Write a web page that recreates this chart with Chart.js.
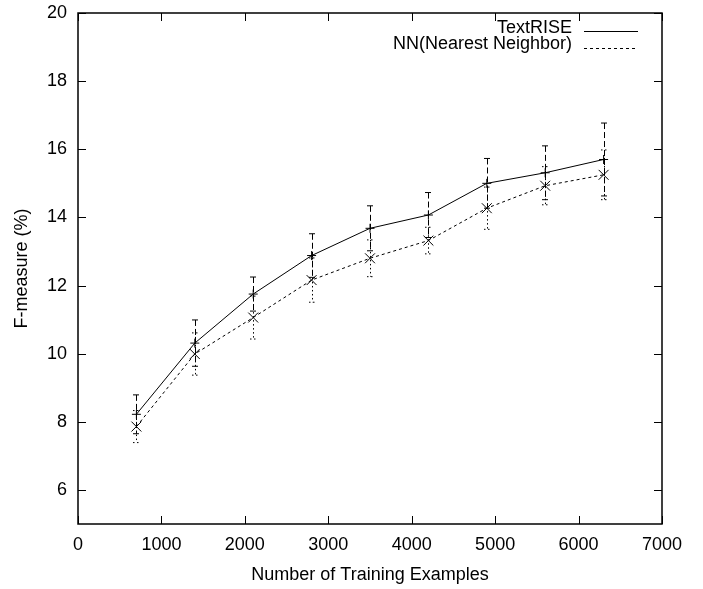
<!DOCTYPE html>
<html><head><meta charset="utf-8">
<script src="https://cdn.jsdelivr.net/npm/chart.js@4.4.1/dist/chart.umd.min.js"></script>
<style>html,body{margin:0;padding:0;background:#fff}</style>
</head><body>
<canvas id="c" width="703" height="589"></canvas>
<script>
const trainingSizes = [700, 1400, 2100, 2800, 3500, 4200, 4900, 5600, 6300];
const textriseF   = [8.22, 10.31, 11.75, 12.88, 13.68, 14.07, 15.0, 15.31, 15.7];
const textriseErr = [0.57, 0.68, 0.50, 0.64, 0.66, 0.66, 0.73, 0.79, 1.07];
const nnF   = [7.86, 9.99, 11.06, 12.16, 12.8, 13.32, 14.27, 14.93, 15.25];
const nnErr = [0.47, 0.62, 0.63, 0.65, 0.54, 0.39, 0.62, 0.56, 0.73];
const xTicks = [0, 1000, 2000, 3000, 4000, 5000, 6000, 7000];
const yTicks = [6, 8, 10, 12, 14, 16, 18, 20];
const seriesNames = ['TextRISE', 'NN(Nearest Neighbor)'];
const xTitle = 'Number of Training Examples';
const yTitle = 'F-measure (%)';

const FONT = 'Liberation Sans, Arial, Helvetica, sans-serif';

const errSpecs = [
  {vals: textriseF, errs: textriseErr, dash: [6, 3]},
  {vals: nnF, errs: nnErr, dash: [1.5, 2.5]}
];

const errorBars = {
  id: 'errorBars',
  beforeDatasetsDraw(chart) {
    const {ctx, scales: {x, y}} = chart;
    ctx.save();
    ctx.strokeStyle = '#000';
    ctx.lineWidth = 1;
    errSpecs.forEach(s => {
      ctx.setLineDash(s.dash);
      trainingSizes.forEach((t, i) => {
        const px = Math.round(x.getPixelForValue(t)) + 0.5;
        const y1 = y.getPixelForValue(s.vals[i] + s.errs[i]);
        const y2 = y.getPixelForValue(s.vals[i] - s.errs[i]);
        ctx.beginPath();
        ctx.moveTo(px, y1); ctx.lineTo(px, y2);
        ctx.moveTo(px - 3.5, y1); ctx.lineTo(px + 3.5, y1);
        ctx.moveTo(px - 3.5, y2); ctx.lineTo(px + 3.5, y2);
        ctx.stroke();
      });
    });
    ctx.restore();
  }
};

const frame = {
  id: 'frame',
  afterDraw(chart) {
    const {ctx, chartArea: a, scales: {x, y}} = chart;
    ctx.save();
    ctx.strokeStyle = '#000';
    ctx.lineWidth = 1.5;
    ctx.strokeRect(a.left, a.top, a.right - a.left, a.bottom - a.top);
    ctx.lineWidth = 1;
    ctx.beginPath();
    xTicks.forEach(v => {
      const px = Math.round(x.getPixelForValue(v)) + 0.5;
      ctx.moveTo(px, a.bottom); ctx.lineTo(px, a.bottom - 8);
      ctx.moveTo(px, a.top); ctx.lineTo(px, a.top + 8);
    });
    yTicks.forEach(v => {
      const py = Math.round(y.getPixelForValue(v)) + 0.5;
      ctx.moveTo(a.left, py); ctx.lineTo(a.left + 8, py);
      ctx.moveTo(a.right, py); ctx.lineTo(a.right - 8, py);
    });
    ctx.stroke();

    // legend
    ctx.font = '18px ' + FONT;
    ctx.fillStyle = '#000';
    ctx.textAlign = 'right';
    ctx.textBaseline = 'middle';
    const rows = [{y: 28, dash: []}, {y: 44.5, dash: [3, 3]}];
    rows.forEach((r, i) => {
      ctx.fillText(seriesNames[i], 572, r.y);
      ctx.setLineDash(r.dash);
      ctx.beginPath();
      ctx.moveTo(584, Math.round(r.y + 3) + 0.5);
      ctx.lineTo(638, Math.round(r.y + 3) + 0.5);
      ctx.stroke();
    });
    ctx.restore();
  }
};

new Chart(document.getElementById('c'), {
  type: 'line',
  data: {
    datasets: [
      {
        label: seriesNames[0],
        data: trainingSizes.map((t, i) => ({x: t, y: textriseF[i]})),
        borderColor: '#000', borderWidth: 1, fill: false, tension: 0,
        pointStyle: 'cross', pointRadius: 4.5, pointBorderWidth: 1,
        pointBorderColor: '#000', pointBackgroundColor: '#000'
      },
      {
        label: seriesNames[1],
        data: trainingSizes.map((t, i) => ({x: t, y: nnF[i]})),
        borderColor: '#000', borderWidth: 1, borderDash: [3, 3], fill: false, tension: 0,
        pointStyle: 'crossRot', pointRadius: 7, pointBorderWidth: 1,
        pointBorderColor: '#000', pointBackgroundColor: '#000'
      }
    ]
  },
  options: {
    responsive: false,
    animation: false,
    devicePixelRatio: 1,
    layout: {padding: {top: 13, right: 41, left: 0, bottom: 0}},
    plugins: {legend: {display: false}, tooltip: {enabled: false}},
    scales: {
      x: {
        type: 'linear', min: 0, max: 7000,
        afterBuildTicks: s => { s.ticks = xTicks.map(v => ({value: v})); },
        afterFit: s => { s.height = 65; s.paddingLeft = 0; s.paddingRight = 0; },
        grid: {display: false, drawTicks: false}, border: {display: false},
        ticks: {color: '#000', font: {family: FONT, size: 18}, padding: 10, maxRotation: 0, autoSkip: false,
                callback: v => String(v)},
        title: {display: true, text: xTitle, color: '#000', font: {family: FONT, size: 18}, padding: {top: 0, bottom: 3}}
      },
      y: {
        type: 'linear', min: 5, max: 20,
        afterBuildTicks: s => { s.ticks = yTicks.map(v => ({value: v})); },
        afterFit: s => { s.width = 78; s.paddingTop = 0; s.paddingBottom = 0; },
        grid: {display: false, drawTicks: false}, border: {display: false},
        ticks: {color: '#000', font: {family: FONT, size: 18}, padding: 11, autoSkip: false,
                callback: v => String(v)},
        title: {display: true, text: yTitle, color: '#000', font: {family: FONT, size: 18}, padding: {top: 11, bottom: 0}}
      }
    }
  },
  plugins: [errorBars, frame]
});
</script>
</body></html>
